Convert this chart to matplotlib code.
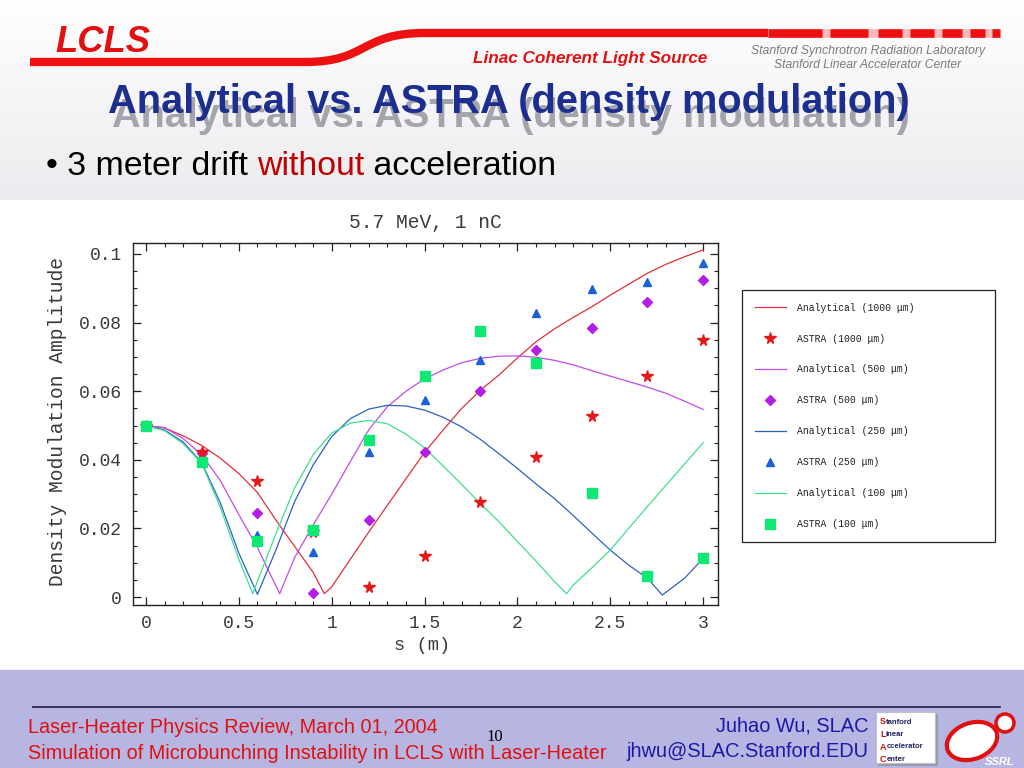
import numpy as np
import matplotlib
matplotlib.use("Agg")
import matplotlib.pyplot as plt
from matplotlib.path import Path
from matplotlib.patches import PathPatch, Rectangle, Ellipse, Circle

# ---------------- data ----------------
s_red = [0, 0.1, 0.2, 0.3, 0.4, 0.5, 0.6, 0.7, 0.8, 0.9, 0.96, 1.0, 1.1, 1.2, 1.3, 1.4, 1.5,
         1.6, 1.7, 1.8, 1.9, 2.0, 2.1, 2.2, 2.3, 2.4, 2.5, 2.6, 2.7, 2.8, 2.9, 3.0]
v_red = [0.050, 0.0493, 0.0470, 0.0442, 0.0405, 0.0360, 0.0305, 0.0224, 0.0148, 0.0072, 0.0010,
         0.0030, 0.0110, 0.0190, 0.0268, 0.0345, 0.0422, 0.0487, 0.0550, 0.0603, 0.0647, 0.0697,
         0.0744, 0.0782, 0.0815, 0.0846, 0.0880, 0.0912, 0.0944, 0.0970, 0.0992, 0.1012]

s_pur = [0, 0.1, 0.2, 0.3, 0.4, 0.5, 0.6, 0.65, 0.72, 0.8, 0.9, 1.0, 1.1, 1.2, 1.3, 1.4, 1.5,
         1.6, 1.7, 1.8, 1.9, 2.0, 2.1, 2.2, 2.3, 2.4, 2.5, 2.6, 2.7, 2.8, 2.9, 3.0]
v_pur = [0.050, 0.0494, 0.0462, 0.0415, 0.0340, 0.0240, 0.0145, 0.0088, 0.0010, 0.0115, 0.0210,
         0.0300, 0.0395, 0.0488, 0.0555, 0.0600, 0.0636, 0.0662, 0.0683, 0.0696, 0.0702, 0.0703,
         0.0699, 0.0690, 0.0677, 0.0660, 0.0644, 0.0628, 0.0612, 0.0594, 0.0571, 0.0547]

s_blu = [0, 0.1, 0.2, 0.3, 0.4, 0.5, 0.6, 0.7, 0.8, 0.9, 1.0, 1.1, 1.2, 1.3, 1.4, 1.5, 1.6,
         1.7, 1.8, 1.9, 2.0, 2.1, 2.2, 2.3, 2.4, 2.5, 2.6, 2.7, 2.78, 2.9, 3.0]
v_blu = [0.050, 0.0487, 0.0452, 0.0392, 0.0275, 0.0128, 0.0008, 0.0138, 0.0278, 0.0385, 0.0468,
         0.0520, 0.0548, 0.0559, 0.0557, 0.0545, 0.0524, 0.0496, 0.0460, 0.0418, 0.0375, 0.0330,
         0.0287, 0.0238, 0.0187, 0.0137, 0.0093, 0.0055, 0.0006, 0.0055, 0.0113]

s_grn = [0, 0.1, 0.2, 0.3, 0.4, 0.5, 0.575, 0.6, 0.7, 0.8, 0.9, 1.0, 1.1, 1.2, 1.3, 1.4, 1.5,
         1.6, 1.7, 1.8, 1.9, 2.0, 2.1, 2.2, 2.265, 2.3, 2.4, 2.5, 2.6, 2.7, 2.8, 2.9, 3.0]
v_grn = [0.050, 0.0485, 0.0447, 0.0390, 0.0262, 0.0110, 0.0010, 0.0046, 0.0185, 0.0318, 0.0415,
         0.0478, 0.0507, 0.0515, 0.0505, 0.0475, 0.0435, 0.0382, 0.0328, 0.0273, 0.0220, 0.0162,
         0.0105, 0.0045, 0.0010, 0.0035, 0.0085, 0.0137, 0.0201, 0.0264, 0.0326, 0.0388, 0.0450]

s_astra = [0, 0.3, 0.6, 0.9, 1.2, 1.5, 1.8, 2.1, 2.4, 2.7, 3.0]
astra_1000 = [0.050, 0.0424, 0.0338, 0.0190, 0.0029, 0.0119, 0.0276, 0.0407, 0.0527, 0.0644, 0.0749]
astra_500 = [0.050, 0.0420, 0.0245, 0.0012, 0.0226, 0.0424, 0.0600, 0.0721, 0.0784, 0.0859, 0.0924]
astra_250 = [0.050, 0.0400, 0.0182, 0.0131, 0.0423, 0.0574, 0.0692, 0.0829, 0.0898, 0.0919, 0.0973]
astra_100 = [0.050, 0.0394, 0.0163, 0.0196, 0.0458, 0.0645, 0.0776, 0.0682, 0.0302, 0.0061, 0.0114]

x_ticks = [0, 0.5, 1, 1.5, 2, 2.5, 3]
x_ticklabels = ["0", "0.5", "1", "1.5", "2", "2.5", "3"]
y_ticks = [0, 0.02, 0.04, 0.06, 0.08, 0.1]
y_ticklabels = ["0", "0.02", "0.04", "0.06", "0.08", "0.1"]

# ---------------- figure ----------------
W, H = 1024, 768
fig = plt.figure(figsize=(W / 100, H / 100), dpi=100)
bg = fig.add_axes([0, 0, 1, 1], zorder=-10)
bg.set_xlim(0, W)
bg.set_ylim(H, 0)
bg.axis("off")

# header gradient
grad = np.linspace(0, 1, 200)[:, None]
c_top = np.array([1.0, 1.0, 1.0])
c_bot = np.array([0.925, 0.925, 0.94])
img = c_top[None, None, :] * (1 - grad[..., None]) + c_bot[None, None, :] * grad[..., None]
img = np.repeat(img, 2, axis=1)
bg.imshow(img, extent=(0, W, 200, 0), aspect="auto", zorder=0)
bg.add_patch(Rectangle((0, 200), W, 470, color="white", zorder=0))
bg.add_patch(Rectangle((0, 670), W, 98, color="#b7b5e1", zorder=0))

renderer = fig.canvas.get_renderer()


def fit(ax, x, y, s, width, **kw):
    t = ax.text(x, y, s, **kw)
    bb = t.get_window_extent(renderer)
    t.set_fontsize(t.get_fontsize() * width / bb.width)
    return t


# red swoosh
verts = [(30, 62), (305, 62), (368, 62), (360, 33), (425, 33), (768, 33)]
codes = [Path.MOVETO, Path.LINETO, Path.CURVE4, Path.CURVE4, Path.CURVE4, Path.LINETO]
bg.add_patch(PathPatch(Path(verts, codes), facecolor="none", edgecolor="#ee1111",
                       lw=6, capstyle="butt", zorder=2))
bg.plot([768, 1000], [33, 33], color="#f7b8b8", lw=6.2, solid_capstyle="butt", zorder=2)
for a, b in [(768, 822), (830, 868), (878, 902), (910, 934), (942, 962), (970, 985), (992, 1000)]:
    bg.plot([a, b], [33, 33], color="#ee1111", lw=6.2, solid_capstyle="butt", zorder=3)

fit(bg, 55, 42, "LCLS", 95, color="#e21010", fontweight="bold", fontstyle="italic",
    family="Liberation Sans", fontsize=27, va="center", ha="left", zorder=4)
fit(bg, 473, 59, "Linac Coherent Light Source", 234, color="#e21010", fontweight="bold",
    fontstyle="italic", family="Liberation Sans", fontsize=11, va="center", ha="left", zorder=4)
fit(bg, 751, 51, "Stanford Synchrotron Radiation Laboratory", 235, color="#7a7a7a",
    fontstyle="italic", family="Liberation Sans", fontsize=8, va="center", ha="left", zorder=4)
fit(bg, 774, 65, "Stanford Linear Accelerator Center", 189, color="#7a7a7a",
    fontstyle="italic", family="Liberation Sans", fontsize=8, va="center", ha="left", zorder=4)

# title with shadow
title = "Analytical vs. ASTRA (density modulation)"
fit(bg, 112, 127, title, 800, color="#a4a4ac", fontweight="bold", family="Liberation Sans",
    fontsize=24, va="baseline", ha="left", zorder=4)
fit(bg, 108, 113, title, 803, color="#1c2f8e", fontweight="bold", family="Liberation Sans",
    fontsize=24, va="baseline", ha="left", zorder=5)

# bullet (three pieces, scaled to the reference width)
parts = [("\u2022 3 meter drift ", "black"), ("without", "#c00000"), (" acceleration", "black")]
fs = 20
tmp = [bg.text(0, 0, p, family="Liberation Sans", fontsize=fs) for p, _ in parts]
tot = sum(t.get_window_extent(renderer).width for t in tmp)
for t in tmp:
    t.remove()
fs = fs * 510 / tot
xx = 46
for p, c in parts:
    t = bg.text(xx, 175, p, color=c, family="Liberation Sans", fontsize=fs,
                va="baseline", ha="left", zorder=5)
    xx += t.get_window_extent(renderer).width

# footer
bg.plot([33, 1000], [707, 707], color="#2a2a50", lw=1.3, zorder=3)
fit(bg, 28, 733, "Laser-Heater Physics Review, March 01, 2004", 408, color="#e01010",
    family="Liberation Sans", fontsize=13, va="baseline", ha="left", zorder=4)
fit(bg, 28, 759, "Simulation of Microbunching Instability in LCLS with Laser-Heater", 576,
    color="#e01010", family="Liberation Sans", fontsize=13, va="baseline", ha="left", zorder=4)
bg.text(495, 741, "10", color="black", family="Liberation Serif", fontsize=12,
        va="baseline", ha="center", zorder=4)
fit(bg, 868, 731, "Juhao Wu, SLAC", 152, color="#1a1aa8", family="Liberation Sans",
    fontsize=13, va="baseline", ha="right", zorder=4)
fit(bg, 868, 757, "jhwu@SLAC.Stanford.EDU", 242, color="#1a1aa8", family="Liberation Sans",
    fontsize=13, va="baseline", ha="right", zorder=4)

# logos
bg.add_patch(Rectangle((878, 714), 60, 52, facecolor="#9a9aa8", edgecolor="none", zorder=3))
bg.add_patch(Rectangle((876, 712), 59, 51, facecolor="white", edgecolor="#c0c0c8", lw=0.8, zorder=3))
for i, word in enumerate(["Stanford", "Linear", "Accelerator", "Center"]):
    yy = 722 + i * 12.5
    t0 = bg.text(880, yy, word[0], color="#d01010", fontsize=6.5, fontweight="bold",
                 family="Liberation Sans", va="center", ha="left", zorder=5)
    w0 = t0.get_window_extent(renderer).width
    bg.text(880 + w0, yy, word[1:], color="#202060", fontsize=5.5, fontweight="bold",
            family="Liberation Sans", va="center", ha="left", zorder=4)
bg.add_patch(Ellipse((972, 741), 52, 36, angle=-20, facecolor="white", edgecolor="#e01010",
                     lw=3, zorder=4))
bg.add_patch(Circle((1005, 723), 9, facecolor="white", edgecolor="#e01010", lw=2.5, zorder=4))
bg.text(1000, 762, "SSRL", color="white", fontsize=8, fontweight="bold", fontstyle="italic",
        family="Liberation Sans", va="center", ha="center", zorder=5)

# ---------------- chart ----------------
mono = "Liberation Mono"
tcol = "#3a3a3a"
ax = fig.add_axes([133 / W, 1 - 605 / H, 585 / W, 362 / H])
ax.set_xlim(-0.07, 3.08)
ax.set_ylim(-0.0023, 0.1032)

c_red, c_pur, c_blu, c_grn = "#e0303a", "#c24ce6", "#2a62c4", "#3ee08e"
l1, = ax.plot(s_red, v_red, color=c_red, lw=0.9, zorder=2)
l2, = ax.plot(s_pur, v_pur, color=c_pur, lw=0.9, zorder=2)
l3, = ax.plot(s_blu, v_blu, color=c_blu, lw=0.9, zorder=2)
l4, = ax.plot(s_grn, v_grn, color=c_grn, lw=0.9, zorder=2)
m3, = ax.plot(s_astra, astra_250, ls="none", marker="^", ms=5.5, color="#1a62d6", zorder=3)
m2, = ax.plot(s_astra, astra_500, ls="none", marker="D", ms=5, color="#b41ee6", zorder=4)
m1, = ax.plot(s_astra, astra_1000, ls="none", marker="*", ms=8.5, color="#e41818", zorder=5)
m4, = ax.plot(s_astra, astra_100, ls="none", marker="s", ms=7.5, color="#10e874", zorder=6)

ax.set_xticks(x_ticks)
ax.set_xticklabels(x_ticklabels)
ax.set_yticks(y_ticks)
ax.set_yticklabels(y_ticklabels)
ax.set_xticks(np.arange(0, 3.01, 0.1), minor=True)
ax.set_yticks(np.arange(0, 0.1001, 0.005), minor=True)
ax.tick_params(which="both", direction="in", top=True, right=True, colors="#222222",
               labelcolor=tcol, labelsize=13)
ax.tick_params(which="major", length=6, width=0.9)
ax.tick_params(which="minor", length=3, width=0.8)
ax.tick_params(axis="x", pad=7)
ax.tick_params(axis="y", pad=8)
for lab in ax.get_xticklabels() + ax.get_yticklabels():
    lab.set_family(mono)
for sp in ax.spines.values():
    sp.set_color("#222222")
    sp.set_linewidth(1.0)

fit(bg, 425, 223, "5.7 MeV, 1 nC", 152, family=mono, fontsize=13, color=tcol,
    ha="center", va="center", zorder=5)
yl = bg.text(58, 421, "Density Modulation Amplitude", family=mono, fontsize=13, color=tcol,
             ha="center", va="center", rotation=90, zorder=5)
yl.set_fontsize(13 * 327 / yl.get_window_extent(renderer).height)
bg.text(422, 646, "s (m)", family=mono, fontsize=13.5, color=tcol,
        ha="center", va="center", zorder=5)

handles = [l1, m1, l2, m2, l3, m3, l4, m4]
labels = ["Analytical (1000 \u03bcm)", "ASTRA (1000 \u03bcm)",
          "Analytical (500 \u03bcm)", "ASTRA (500 \u03bcm)",
          "Analytical (250 \u03bcm)", "ASTRA (250 \u03bcm)",
          "Analytical (100 \u03bcm)", "ASTRA (100 \u03bcm)"]
leg = fig.legend(handles, labels, loc="upper left",
                 bbox_to_anchor=(742 / W, 1 - 543 / H, 253 / W, 253 / H), mode="expand",
                 borderaxespad=0, fancybox=False, edgecolor="#222222", framealpha=1,
                 prop={"family": mono, "size": 7}, labelspacing=2.15, borderpad=1.3,
                 handlelength=3.2, handletextpad=1.2, markerscale=1.0)
leg.get_frame().set_linewidth(0.9)
for t in leg.get_texts():
    t.set_color("#222222")

fig.savefig("out.png", dpi=100)
